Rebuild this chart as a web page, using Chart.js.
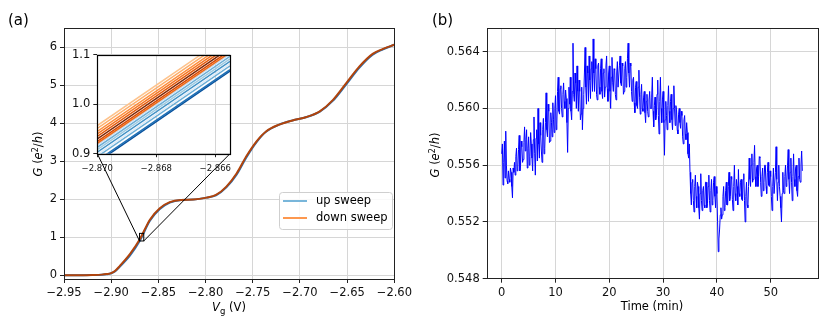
<!DOCTYPE html>
<html>
<head>
<meta charset="utf-8">
<script src="https://cdn.jsdelivr.net/npm/chart.js@4.4.0/dist/chart.umd.min.js"></script>
<style>
html, body { margin: 0; padding: 0; background: #fff; }
#wrap { position: relative; width: 830px; height: 332px; }
canvas { position: absolute; }
</style>
</head>
<body>
<div id="wrap">
<canvas id="sweepChart" width="415" height="332" style="left:0;top:0;width:415px;height:332px"></canvas>
<canvas id="insetChart" width="180" height="130" style="left:60px;top:45px;width:180px;height:130px"></canvas>
<canvas id="timeChart" width="415" height="332" style="left:415px;top:0;width:415px;height:332px"></canvas>
</div>
<script>
// (a) conductance vs gate voltage
let vgTicks = [-2.95, -2.90, -2.85, -2.80, -2.75, -2.70, -2.65, -2.60];
let gTicks = [0, 1, 2, 3, 4, 5, 6];
let vg = [-2.95, -2.93, -2.92, -2.91, -2.905, -2.90, -2.896, -2.891, -2.880, -2.870, -2.859, -2.8485,
	-2.838, -2.826, -2.813, -2.799, -2.789, -2.778, -2.767, -2.757, -2.746, -2.736,
	-2.722, -2.708, -2.693, -2.679, -2.665, -2.651, -2.637, -2.623, -2.612, -2.60];
let gDown = [0.00, 0.00, 0.005, 0.015, 0.03, 0.055, 0.11, 0.24, 0.56, 0.93, 1.46, 1.76,
	1.92, 1.98, 1.99, 2.04, 2.11, 2.33, 2.68, 3.12, 3.52, 3.78,
	3.96, 4.07, 4.16, 4.31, 4.61, 5.05, 5.49, 5.82, 5.95, 6.06];
let gUp = [0.00, 0.00, 0.005, 0.013, 0.025, 0.05, 0.10, 0.22, 0.52, 0.89, 1.43, 1.74,
	1.91, 1.98, 1.99, 2.04, 2.10, 2.31, 2.65, 3.09, 3.50, 3.77,
	3.96, 4.07, 4.16, 4.30, 4.59, 5.02, 5.46, 5.80, 5.94, 6.06];
let sweepLabels = ["up sweep", "down sweep"];

// (a) inset: zoom on the first step
let insetVgRange = [-2.870, -2.8655];
let insetGRange = [0.9, 1.1];
let insetXTicks = [-2.870, -2.868, -2.866];
let insetYTicks = [0.9, 1.0, 1.1];
let insetUp = [
	[0.918, 1.102], [0.913, 1.097], [0.908, 1.092], [0.903, 1.087],
	[0.898, 1.082], [0.894, 1.078], [0.886, 1.070], [0.883, 1.067]
];
let insetDown = [
	[0.957, 1.141], [0.951, 1.135], [0.945, 1.129], [0.940, 1.124],
	[0.935, 1.119], [0.930, 1.114], [0.925, 1.109], [0.921, 1.105]
];

// (b) conductance vs time, one reading every 7.5 s
let timeStepMin = 0.125;
let timeTicks = [0, 10, 20, 30, 40, 50];
let gTimeTicks = [0.548, 0.552, 0.556, 0.560, 0.564];
let gTime = [
	0.5568, 0.5575, 0.5546, 0.5562, 0.5577, 0.5551, 0.5584, 0.5560,
	0.5549, 0.5547, 0.5556, 0.5550, 0.5548, 0.5558, 0.5555, 0.5545,
	0.5537, 0.5558, 0.5555, 0.5562, 0.5553, 0.5566, 0.5572, 0.5556,
	0.5558, 0.5571, 0.5581, 0.5556, 0.5560, 0.5577, 0.5573, 0.5562,
	0.5564, 0.5576, 0.5587, 0.5570, 0.5578, 0.5585, 0.5558, 0.5572,
	0.5580, 0.5560, 0.5566, 0.5583, 0.5575, 0.5565, 0.5556, 0.5578,
	0.5594, 0.5568, 0.5553, 0.5579, 0.5585, 0.5563, 0.5600, 0.5575,
	0.5565, 0.5590, 0.5581, 0.5570, 0.5562, 0.5585, 0.5593, 0.5568,
	0.5572, 0.5590, 0.5611, 0.5585, 0.5580, 0.5603, 0.5598, 0.5576,
	0.5577, 0.5597, 0.5590, 0.5580, 0.5604, 0.5592, 0.5583, 0.5600,
	0.5609, 0.5585, 0.5589, 0.5612, 0.5622, 0.5598, 0.5596, 0.5614,
	0.5616, 0.5600, 0.5594, 0.5610, 0.5618, 0.5605, 0.5600, 0.5613,
	0.5607, 0.5590, 0.5569, 0.5600, 0.5615, 0.5603, 0.5622, 0.5598,
	0.5592, 0.5612, 0.5646, 0.5610, 0.5605, 0.5625, 0.5618, 0.5600,
	0.5630, 0.5612, 0.5598, 0.5620, 0.5612, 0.5592, 0.5596, 0.5615,
	0.5585, 0.5600, 0.5610, 0.5625, 0.5643, 0.5615, 0.5603, 0.5630,
	0.5625, 0.5605, 0.5637, 0.5620, 0.5607, 0.5628, 0.5633, 0.5612,
	0.5649, 0.5625, 0.5612, 0.5635, 0.5628, 0.5610, 0.5606, 0.5630,
	0.5632, 0.5615, 0.5610, 0.5628, 0.5635, 0.5612, 0.5607, 0.5625,
	0.5628, 0.5608, 0.5615, 0.5630, 0.5637, 0.5614, 0.5605, 0.5625,
	0.5630, 0.5612, 0.5600, 0.5622, 0.5636, 0.5618, 0.5612, 0.5628,
	0.5627, 0.5610, 0.5606, 0.5625, 0.5633, 0.5615, 0.5615, 0.5630,
	0.5637, 0.5618, 0.5616, 0.5632, 0.5630, 0.5610, 0.5612, 0.5628,
	0.5633, 0.5615, 0.5622, 0.5635, 0.5646, 0.5625, 0.5615, 0.5632,
	0.5630, 0.5612, 0.5605, 0.5620, 0.5622, 0.5604, 0.5597, 0.5615,
	0.5619, 0.5602, 0.5600, 0.5615, 0.5627, 0.5608, 0.5596, 0.5610,
	0.5617, 0.5600, 0.5598, 0.5608, 0.5612, 0.5597, 0.5590, 0.5605,
	0.5610, 0.5598, 0.5594, 0.5606, 0.5612, 0.5600, 0.5600, 0.5608,
	0.5622, 0.5598, 0.5587, 0.5602, 0.5608, 0.5592, 0.5595, 0.5610,
	0.5620, 0.5595, 0.5582, 0.5605, 0.5622, 0.5600, 0.5590, 0.5606,
	0.5612, 0.5590, 0.5567, 0.5592, 0.5605, 0.5595, 0.5585, 0.5602,
	0.5616, 0.5598, 0.5590, 0.5605, 0.5610, 0.5592, 0.5585, 0.5600,
	0.5616, 0.5600, 0.5588, 0.5602, 0.5599, 0.5585, 0.5582, 0.5596,
	0.5600, 0.5590, 0.5586, 0.5598, 0.5595, 0.5580, 0.5575, 0.5592,
	0.5595, 0.5582, 0.5578, 0.5590, 0.5583, 0.5568, 0.5565, 0.5575,
	0.5555, 0.5540, 0.5532, 0.5548, 0.5550, 0.5535, 0.5527, 0.5545,
	0.5553, 0.5538, 0.5530, 0.5548, 0.5545, 0.5530, 0.5522, 0.5540,
	0.5554, 0.5535, 0.5528, 0.5542, 0.5545, 0.5532, 0.5530, 0.5548,
	0.5548, 0.5530, 0.5533, 0.5545, 0.5553, 0.5535, 0.5527, 0.5542,
	0.5550, 0.5532, 0.5535, 0.5548, 0.5552, 0.5538, 0.5530, 0.5545,
	0.5540, 0.5520, 0.5499, 0.5508, 0.5515, 0.5525, 0.5530, 0.5522,
	0.5525, 0.5538, 0.5545, 0.5528, 0.5530, 0.5542, 0.5548, 0.5532,
	0.5532, 0.5545, 0.5555, 0.5535, 0.5538, 0.5552, 0.5550, 0.5536,
	0.5528, 0.5545, 0.5560, 0.5540, 0.5535, 0.5550, 0.5545, 0.5532,
	0.5557, 0.5540, 0.5538, 0.5548, 0.5550, 0.5536, 0.5535, 0.5550,
	0.5554, 0.5535, 0.5520, 0.5538, 0.5548, 0.5532, 0.5530, 0.5545,
	0.5565, 0.5550, 0.5545, 0.5560, 0.5568, 0.5548, 0.5550, 0.5562,
	0.5574, 0.5552, 0.5545, 0.5558, 0.5560, 0.5545, 0.5552, 0.5566,
	0.5565, 0.5548, 0.5538, 0.5552, 0.5558, 0.5542, 0.5548, 0.5560,
	0.5560, 0.5545, 0.5540, 0.5555, 0.5562, 0.5546, 0.5545, 0.5556,
	0.5552, 0.5538, 0.5528, 0.5545, 0.5558, 0.5540, 0.5540, 0.5555,
	0.5573, 0.5550, 0.5535, 0.5548, 0.5560, 0.5545, 0.5538, 0.5530,
	0.5520, 0.5540, 0.5555, 0.5542, 0.5540, 0.5552, 0.5560, 0.5545,
	0.5548, 0.5560, 0.5571, 0.5550, 0.5540, 0.5555, 0.5565, 0.5548,
	0.5535, 0.5552, 0.5568, 0.5550, 0.5545, 0.5558, 0.5560, 0.5542,
	0.5538, 0.5552, 0.5565, 0.5550, 0.5548, 0.5560, 0.5570, 0.5556
];

var FONT = "'DejaVu Sans', sans-serif";
var upColors = ["#c6dbef", "#6baed6", "#9ecae1", "#4292c6", "#deebf7", "#6baed6", "#2171b5", "#08519c"];
var downColors = ["#fdc38d", "#fdae6b", "#fd8d3c", "#f57622", "#e5590a", "#7f2704", "#d94801", "#f16913"];

function minus(s) { return s.replace("-", "\u2212"); }

function axisStyle(tickList, fmt, size) {
	return {
		type: "linear",
		afterBuildTicks: function (s) { s.ticks = tickList.map(function (v) { return { value: v }; }); },
		grid: { color: "#d6d6d6", lineWidth: 1, tickColor: "#222", tickLength: 4, tickWidth: 1 },
		border: { display: false },
		ticks: {
			autoSkip: false, maxRotation: 0, padding: 3, color: "#111",
			font: { family: FONT, size: size || 11.5 },
			callback: function (v) { return minus(fmt(v)); }
		}
	};
}

// draws a rectangle round the plot area (and optionally fills it first)
var framePlugin = {
	id: "frame",
	beforeDraw: function (c, args, o) {
		if (!o.fill) return;
		var a = c.chartArea, ctx = c.ctx;
		ctx.save();
		ctx.fillStyle = o.fill;
		ctx.fillRect(a.left, a.top, a.right - a.left, a.bottom - a.top);
		ctx.restore();
	},
	afterDraw: function (c, args, o) {
		var a = c.chartArea, ctx = c.ctx;
		ctx.save();
		ctx.strokeStyle = o.color || "#222";
		ctx.lineWidth = o.width || 1;
		ctx.strokeRect(Math.round(a.left) + 0.5, Math.round(a.top) + 0.5,
			Math.round(a.right - a.left), Math.round(a.bottom - a.top));
		ctx.restore();
	}
};

// text made of runs so italics, sub and superscripts work
function drawRuns(ctx, runs, cx, cy, rotate) {
	ctx.save();
	ctx.translate(cx, cy);
	if (rotate) ctx.rotate(-Math.PI / 2);
	ctx.fillStyle = "#000";
	ctx.textBaseline = "alphabetic";
	ctx.textAlign = "left";
	var total = 0;
	runs.forEach(function (r) {
		ctx.font = (r.i ? "italic " : "") + (r.s || 11.5) + "px " + FONT;
		r.w = ctx.measureText(r.t).width;
		total += r.w;
	});
	var x = -total / 2;
	runs.forEach(function (r) {
		ctx.font = (r.i ? "italic " : "") + (r.s || 11.5) + "px " + FONT;
		ctx.fillText(r.t, x, 4 + (r.dy || 0));
		x += r.w;
	});
	ctx.restore();
}

function gLabel() {
	return [{ t: "G", i: 1 }, { t: " (" }, { t: "e", i: 1 }, { t: "2", s: 8, dy: -4.5 },
		{ t: "/" }, { t: "h", i: 1 }, { t: ")" }];
}

var insetCanvas = document.getElementById("insetChart");
var sweepCanvas = document.getElementById("sweepChart");

// first dataset is drawn on top in Chart.js, so oranges go first
var insetDatasets = [];
insetDown.forEach(function (pair, i) {
	insetDatasets.push({
		data: [{ x: insetVgRange[0], y: pair[0] }, { x: insetVgRange[1], y: pair[1] }],
		borderColor: downColors[i], borderWidth: 1.5, pointRadius: 0
	});
});
insetUp.forEach(function (pair, i) {
	insetDatasets.push({
		data: [{ x: insetVgRange[0], y: pair[0] }, { x: insetVgRange[1], y: pair[1] }],
		borderColor: upColors[i], borderWidth: 1.5, pointRadius: 0
	});
});

var insetX = axisStyle(insetXTicks, function (v) { return v.toFixed(3); }, 8.5);
insetX.min = insetVgRange[0];
insetX.max = insetVgRange[1];
insetX.grid.tickLength = 3.5;
insetX.ticks.padding = 6;
insetX.afterFit = function (s) { s.height = 130 - 108.7; };
var insetY = axisStyle(insetYTicks, function (v) { return v.toFixed(1); });
insetY.min = insetGRange[0];
insetY.max = insetGRange[1];
insetY.afterFit = function (s) { s.width = 37.3; };

var insetChart = new Chart(insetCanvas, {
	type: "line",
	data: { datasets: insetDatasets },
	options: {
		responsive: false, animation: false, devicePixelRatio: 1,
		layout: { padding: { left: 0, right: 10, top: 7.7, bottom: 0 } },
		plugins: { legend: { display: false }, tooltip: { enabled: false },
			frame: { fill: "#fff", color: "#000", width: 1.2 } },
		scales: { x: insetX, y: insetY }
	},
	plugins: [framePlugin]
});

// rectangle on the curve plus the two lines to the inset corners
var insetMarker = {
	id: "insetMarker",
	afterDatasetsDraw: function (c) {
		var ctx = c.ctx, xs = c.scales.x, ys = c.scales.y;
		var x0 = xs.getPixelForValue(insetVgRange[0]), x1 = xs.getPixelForValue(insetVgRange[1]);
		var y0 = ys.getPixelForValue(insetGRange[0]), y1 = ys.getPixelForValue(insetGRange[1]);
		var ia = insetChart.chartArea;
		var ox = insetCanvas.offsetLeft - sweepCanvas.offsetLeft;
		var oy = insetCanvas.offsetTop - sweepCanvas.offsetTop;
		ctx.save();
		ctx.strokeStyle = "#000";
		ctx.lineWidth = 1;
		ctx.strokeRect(x0, y1, x1 - x0, y0 - y1);
		ctx.beginPath();
		ctx.moveTo(ia.left + ox, ia.bottom + oy);
		ctx.lineTo(x0, y0);
		ctx.moveTo(ia.right + ox, ia.bottom + oy);
		ctx.lineTo(x1, y0);
		ctx.stroke();
		ctx.restore();
	}
};

var sweepText = {
	id: "sweepText",
	afterDraw: function (c) {
		var ctx = c.ctx;
		ctx.save();
		ctx.fillStyle = "#000";
		ctx.font = "15px " + FONT;
		ctx.textBaseline = "alphabetic";
		ctx.fillText("(a)", 8, 24.5);
		ctx.restore();
		drawRuns(ctx, gLabel(), 38, 154, true);
		drawRuns(ctx, [{ t: "V", i: 1 }, { t: "g", s: 8.5, dy: 2.5 }, { t: " (V)" }], 229, 307);
		// legend
		ctx.save();
		ctx.fillStyle = "rgba(255,255,255,0.85)";
		ctx.strokeStyle = "#cfcfcf";
		ctx.lineWidth = 1;
		ctx.beginPath();
		ctx.roundRect(279.5, 192.5, 113, 37, 3);
		ctx.fill();
		ctx.stroke();
		var legendColors = ["#6aaed6", "#fd8d3c"];
		sweepLabels.forEach(function (lab, i) {
			var y = 201 + i * 17;
			ctx.strokeStyle = legendColors[i];
			ctx.lineWidth = 1.8;
			ctx.beginPath();
			ctx.moveTo(283, y);
			ctx.lineTo(307, y);
			ctx.stroke();
			ctx.fillStyle = "#000";
			ctx.font = "11.5px " + FONT;
			ctx.textBaseline = "middle";
			ctx.fillText(lab, 316, y + 0.5);
		});
		ctx.restore();
	}
};

var mainX = axisStyle(vgTicks, function (v) { return v.toFixed(2); });
mainX.min = -2.95;
mainX.max = -2.60;
mainX.afterFit = function (s) { s.height = 53; };
var mainY = axisStyle(gTicks, function (v) { return v.toFixed(0); });
mainY.min = -0.1;
mainY.max = 6.5;
mainY.afterFit = function (s) { s.width = 64; };

var sweepChart = new Chart(sweepCanvas, {
	type: "line",
	data: {
		datasets: [
			{
				label: sweepLabels[1],
				data: vg.map(function (v, i) { return { x: v, y: gDown[i] }; }),
				borderColor: "#b1440c", borderWidth: 2, pointRadius: 0, cubicInterpolationMode: "monotone"
			},
			{
				label: sweepLabels[0],
				data: vg.map(function (v, i) { return { x: v, y: gUp[i] }; }),
				borderColor: "#2a70b3", borderWidth: 2, pointRadius: 0, cubicInterpolationMode: "monotone"
			}
		]
	},
	options: {
		responsive: false, animation: false, devicePixelRatio: 1,
		layout: { padding: { left: 0, right: 20, top: 28, bottom: 0 } },
		plugins: { legend: { display: false }, tooltip: { enabled: false }, frame: {} },
		scales: { x: mainX, y: mainY }
	},
	plugins: [framePlugin, insetMarker, sweepText]
});

// (b)
var timeText = {
	id: "timeText",
	afterDraw: function (c) {
		var ctx = c.ctx;
		ctx.save();
		ctx.fillStyle = "#000";
		ctx.font = "15px " + FONT;
		ctx.textBaseline = "alphabetic";
		ctx.fillText("(b)", 17, 24.5);
		ctx.restore();
		drawRuns(ctx, gLabel(), 20, 155, true);
		drawRuns(ctx, [{ t: "Time (min)" }], 237, 306);
	}
};

var timeX = axisStyle(timeTicks, function (v) { return v.toFixed(0); });
timeX.min = -2.79;
timeX.max = 58.66;
timeX.afterFit = function (s) { s.height = 53.3; };
var timeY = axisStyle(gTimeTicks, function (v) { return v.toFixed(3); });
timeY.min = 0.548;
timeY.max = 0.56565;
timeY.afterFit = function (s) { s.width = 71.7; };

var timeChart = new Chart(document.getElementById("timeChart"), {
	type: "line",
	data: {
		datasets: [{
			data: gTime.map(function (g, i) { return { x: i * timeStepMin, y: g }; }),
			borderColor: "#0000ff", borderWidth: 1, pointRadius: 0
		}]
	},
	options: {
		responsive: false, animation: false, devicePixelRatio: 1,
		layout: { padding: { left: 0, right: 12.7, top: 28.3, bottom: 0 } },
		plugins: { legend: { display: false }, tooltip: { enabled: false }, frame: {} },
		scales: { x: timeX, y: timeY }
	},
	plugins: [framePlugin, timeText]
});
</script>
</body>
</html>
